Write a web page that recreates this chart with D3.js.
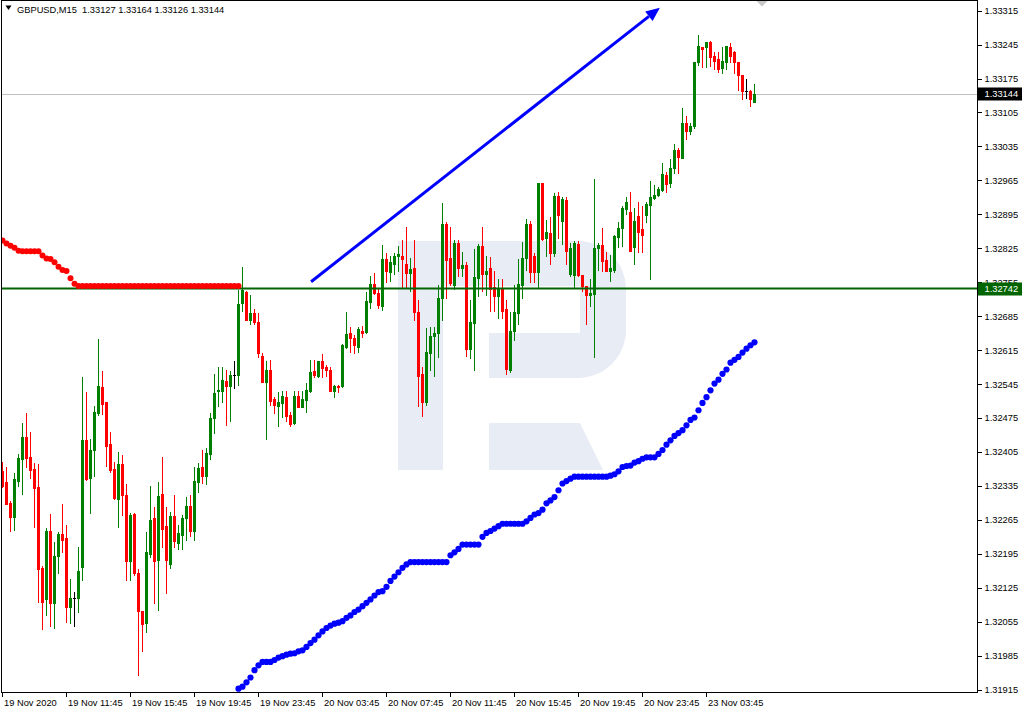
<!DOCTYPE html>
<html><head><meta charset="utf-8">
<script src="https://cdn.jsdelivr.net/npm/d3@7"></script>
<style>html,body{margin:0;padding:0;background:#fff;overflow:hidden}svg{display:block}text{font-family:"Liberation Sans",Arial,sans-serif}</style>
</head><body><svg id="c" width="1025" height="713"></svg>
<script>
const titleText = "GBPUSD,M15  1.33127 1.33164 1.33126 1.33144";
const opens = [1.32365,1.32344,1.32299,1.32270,1.32346,1.32390,1.32435,1.32394,1.32369,1.32332,
1.32165,1.32101,1.32243,1.32093,1.32191,1.32235,1.32227,1.32086,1.32103,1.32103,
1.32167,1.32429,1.32352,1.32408,1.32486,1.32538,1.32507,1.32422,1.32369,1.32309,
1.32381,1.32317,1.32181,1.32278,1.32156,1.32078,1.32053,1.32194,1.32268,1.32183,
1.32319,1.32253,1.32173,1.32272,1.32218,1.32233,1.32268,1.32293,1.32241,1.32344,
1.32373,1.32356,1.32400,1.32476,1.32530,1.32530,1.32552,1.32540,1.32563,1.32563,
1.32713,1.32734,1.32678,1.32691,1.32672,1.32602,1.32550,1.32575,1.32515,1.32499,
1.32505,1.32519,1.32482,1.32464,1.32521,1.32497,1.32513,1.32530,1.32571,1.32561,
1.32592,1.32581,1.32575,1.32530,1.32542,1.32540,1.32622,1.32651,1.32639,1.32622,
1.32655,1.32653,1.32715,1.32752,1.32732,1.32705,1.32802,1.32777,1.32792,1.32808,
1.32810,1.32792,1.32775,1.32785,1.32693,1.32565,1.32507,1.32610,1.32645,1.32651,
1.32723,1.32874,1.32804,1.32750,1.32835,1.32785,1.32790,1.32618,1.32670,1.32763,
1.32829,1.32771,1.32785,1.32746,1.32726,1.32744,1.32699,1.32573,1.32655,1.32691,
1.32750,1.32804,1.32876,1.32808,1.32777,1.32959,1.32847,1.32856,1.32816,1.32932,
1.32882,1.32924,1.32771,1.32769,1.32833,1.32769,1.32748,1.32728,1.32730,1.32825,
1.32831,1.32800,1.32779,1.32781,1.32849,1.32866,1.32905,1.32899,1.32827,1.32891,
1.32864,1.32893,1.32915,1.32928,1.32934,1.32946,1.32977,1.32959,1.32990,1.33027,
1.33012,1.33084,1.33066,1.33078,1.33208,1.33239,1.33239,1.33251,1.33222,1.33216,
1.33196,1.33210,1.33239,1.33229,1.33210,1.33183,1.33150,1.33150,1.33127];
const highs = [1.32385,1.32373,1.32303,1.32361,1.32400,1.32464,1.32486,1.32447,1.32383,1.32381,
1.32169,1.32249,1.32278,1.32220,1.32239,1.32297,1.32255,1.32144,1.32117,1.32210,
1.32559,1.32528,1.32431,1.32499,1.32637,1.32571,1.32509,1.32447,1.32385,1.32404,
1.32398,1.32338,1.32280,1.32280,1.32163,1.32078,1.32239,1.32334,1.32291,1.32344,
1.32394,1.32291,1.32282,1.32317,1.32255,1.32274,1.32313,1.32317,1.32373,1.32383,
1.32410,1.32414,1.32486,1.32565,1.32581,1.32581,1.32575,1.32571,1.32592,1.32738,
1.32787,1.32736,1.32728,1.32699,1.32691,1.32610,1.32592,1.32594,1.32519,1.32528,
1.32530,1.32530,1.32488,1.32530,1.32530,1.32530,1.32548,1.32594,1.32594,1.32592,
1.32606,1.32585,1.32581,1.32544,1.32544,1.32627,1.32693,1.32662,1.32647,1.32662,
1.32664,1.32734,1.32767,1.32775,1.32740,1.32831,1.32816,1.32810,1.32816,1.32829,
1.32841,1.32868,1.32804,1.32841,1.32719,1.32581,1.32660,1.32662,1.32662,1.32750,
1.32919,1.32880,1.32868,1.32843,1.32843,1.32818,1.32796,1.32719,1.32823,1.32833,
1.32868,1.32810,1.32806,1.32779,1.32761,1.32761,1.32719,1.32693,1.32750,1.32802,
1.32837,1.32886,1.32882,1.32816,1.32959,1.32959,1.32884,1.32889,1.32938,1.32942,
1.32930,1.32930,1.32835,1.32839,1.32839,1.32769,1.32748,1.32761,1.32967,1.32835,
1.32866,1.32818,1.32812,1.32853,1.32880,1.32913,1.32930,1.32940,1.32907,1.32921,
1.32913,1.32921,1.32963,1.32955,1.32952,1.33000,1.32983,1.33008,1.33039,1.33031,
1.33115,1.33097,1.33084,1.33210,1.33264,1.33239,1.33251,1.33253,1.33229,1.33229,
1.33239,1.33243,1.33249,1.33231,1.33210,1.33183,1.33175,1.33152,1.33164];
const lows = [1.32332,1.32297,1.32243,1.32245,1.32334,1.32319,1.32375,1.32352,1.32251,1.32095,
1.32039,1.32068,1.32047,1.32043,1.32156,1.32198,1.32055,1.32053,1.32047,1.32074,
1.32142,1.32348,1.32280,1.32356,1.32482,1.32484,1.32377,1.32363,1.32309,1.32251,
1.32274,1.32140,1.32142,1.32152,1.31946,1.31994,1.32033,1.32189,1.32093,1.32080,
1.32210,1.32115,1.32165,1.32208,1.32204,1.32204,1.32224,1.32231,1.32224,1.32323,
1.32342,1.32338,1.32390,1.32445,1.32499,1.32507,1.32460,1.32468,1.32536,1.32544,
1.32695,1.32678,1.32668,1.32668,1.32600,1.32550,1.32431,1.32501,1.32486,1.32458,
1.32478,1.32468,1.32458,1.32462,1.32497,1.32497,1.32488,1.32528,1.32559,1.32559,
1.32559,1.32561,1.32530,1.32519,1.32528,1.32538,1.32620,1.32612,1.32610,1.32612,
1.32643,1.32651,1.32701,1.32730,1.32701,1.32697,1.32756,1.32758,1.32771,1.32779,
1.32746,1.32744,1.32736,1.32678,1.32499,1.32480,1.32501,1.32573,1.32561,1.32600,
1.32678,1.32723,1.32750,1.32740,1.32767,1.32767,1.32602,1.32598,1.32575,1.32726,
1.32736,1.32728,1.32695,1.32695,1.32682,1.32682,1.32565,1.32569,1.32635,1.32668,
1.32723,1.32781,1.32756,1.32756,1.32746,1.32841,1.32808,1.32792,1.32810,1.32847,
1.32833,1.32792,1.32767,1.32746,1.32767,1.32736,1.32668,1.32705,1.32600,1.32781,
1.32779,1.32779,1.32758,1.32777,1.32827,1.32829,1.32895,1.32820,1.32792,1.32818,
1.32818,1.32880,1.32761,1.32926,1.32932,1.32944,1.32942,1.32952,1.32981,1.32981,
1.33012,1.33051,1.33060,1.33072,1.33202,1.33198,1.33198,1.33200,1.33194,1.33189,
1.33187,1.33194,1.33208,1.33187,1.33152,1.33132,1.33134,1.33119,1.33126];
const closes = [1.32334,1.32297,1.32270,1.32350,1.32392,1.32435,1.32392,1.32367,1.32330,1.32163,
1.32095,1.32243,1.32093,1.32191,1.32235,1.32224,1.32086,1.32103,1.32103,1.32159,
1.32429,1.32350,1.32410,1.32488,1.32542,1.32503,1.32418,1.32367,1.32311,1.32381,
1.32317,1.32181,1.32274,1.32156,1.32078,1.32051,1.32198,1.32264,1.32181,1.32315,
1.32247,1.32183,1.32272,1.32222,1.32237,1.32268,1.32293,1.32241,1.32346,1.32371,
1.32356,1.32402,1.32476,1.32526,1.32532,1.32554,1.32540,1.32563,1.32563,1.32711,
1.32738,1.32678,1.32691,1.32672,1.32610,1.32550,1.32573,1.32511,1.32501,1.32507,
1.32521,1.32480,1.32462,1.32521,1.32497,1.32515,1.32532,1.32569,1.32563,1.32592,
1.32579,1.32573,1.32530,1.32540,1.32538,1.32625,1.32649,1.32639,1.32625,1.32658,
1.32651,1.32717,1.32752,1.32732,1.32707,1.32802,1.32779,1.32796,1.32810,1.32814,
1.32802,1.32775,1.32783,1.32693,1.32561,1.32507,1.32612,1.32645,1.32651,1.32723,
1.32874,1.32800,1.32754,1.32835,1.32785,1.32790,1.32618,1.32672,1.32765,1.32829,
1.32771,1.32779,1.32740,1.32726,1.32740,1.32695,1.32577,1.32655,1.32693,1.32752,
1.32804,1.32876,1.32777,1.32777,1.32959,1.32845,1.32858,1.32816,1.32932,1.32893,
1.32926,1.32820,1.32825,1.32835,1.32769,1.32748,1.32728,1.32732,1.32825,1.32831,
1.32798,1.32779,1.32785,1.32851,1.32866,1.32907,1.32921,1.32820,1.32882,1.32858,
1.32853,1.32917,1.32930,1.32934,1.32948,1.32979,1.32957,1.32990,1.33027,1.33014,
1.33084,1.33066,1.33078,1.33208,1.33241,1.33235,1.33251,1.33220,1.33212,1.33194,
1.33212,1.33241,1.33222,1.33208,1.33183,1.33150,1.33150,1.33132,1.33144];
// red dotted indicator (bars 0..59)
const redDots = [1.32841,1.32835,1.32830,1.32826,1.32820,1.32819,1.32819,1.32819,1.32819,1.32819,
1.32810,1.32804,1.32803,1.32796,1.32787,1.32780,1.32778,1.32763,1.32752,1.32747,
1.32747,1.32747,1.32747,1.32747,1.32747,1.32747,1.32747,1.32747,1.32747,1.32747,
1.32747,1.32747,1.32747,1.32747,1.32747,1.32747,1.32747,1.32747,1.32747,1.32747,
1.32747,1.32747,1.32747,1.32747,1.32747,1.32747,1.32747,1.32747,1.32747,1.32747,
1.32747,1.32747,1.32747,1.32747,1.32747,1.32747,1.32747,1.32747,1.32747,1.32747];
// blue dotted indicator (bars 59..188)
const blueStartBar = 59;
const blueDots = [1.31917,1.31921,1.31930,1.31940,1.31955,1.31965,1.31972,1.31972,1.31972,1.31976,
1.31981,1.31984,1.31987,1.31989,1.31990,1.31994,1.31996,1.32003,1.32011,1.32018,
1.32027,1.32035,1.32042,1.32047,1.32051,1.32053,1.32056,1.32063,1.32068,1.32075,
1.32080,1.32087,1.32094,1.32101,1.32109,1.32116,1.32118,1.32127,1.32139,1.32148,
1.32157,1.32166,1.32173,1.32178,1.32178,1.32178,1.32178,1.32178,1.32178,1.32178,
1.32178,1.32178,1.32178,1.32192,1.32198,1.32205,1.32214,1.32214,1.32214,1.32214,
1.32214,1.32230,1.32238,1.32242,1.32247,1.32252,1.32257,1.32257,1.32257,1.32257,
1.32257,1.32257,1.32262,1.32269,1.32276,1.32279,1.32286,1.32299,1.32305,1.32312,
1.32326,1.32340,1.32345,1.32350,1.32354,1.32354,1.32354,1.32354,1.32354,1.32354,
1.32354,1.32354,1.32354,1.32356,1.32359,1.32365,1.32374,1.32376,1.32377,1.32383,
1.32386,1.32391,1.32394,1.32394,1.32394,1.32401,1.32409,1.32420,1.32429,1.32438,
1.32444,1.32450,1.32460,1.32471,1.32476,1.32491,1.32506,1.32518,1.32532,1.32546,
1.32554,1.32566,1.32575,1.32589,1.32595,1.32601,1.32610,1.32618,1.32625,1.32631];
const priceTicks = [1.33315,1.33245,1.33175,1.33105,1.33035,1.32965,1.32895,1.32825,1.32755,1.32685,1.32615,1.32545,1.32475,1.32405,1.32335,1.32265,1.32195,1.32125,1.32055,1.31985,1.31915];
const timeTickBars = [0,16,32,48,64,80,96,112,128,144,160,176];
const timeLabels = ["19 Nov 2020","19 Nov 11:45","19 Nov 15:45","19 Nov 19:45","19 Nov 23:45","20 Nov 03:45","20 Nov 07:45","20 Nov 11:45","20 Nov 15:45","20 Nov 19:45","20 Nov 23:45","23 Nov 03:45"];
const levelPrice = 1.32742;
const bidPrice = 1.33144;
const arrowFrom = [77.2, 1.32756];
const arrowTo = [164.4, 1.33321];

const svg = d3.select('#c');
const PL = 1.5, PR = 977.5, PT = 0.5, PB = 692.5;
const x = d3.scaleLinear().domain([0, 188]).range([2.3, 754.3]);
const y = d3.scaleLinear().domain([1.31915, 1.33315]).range([689.6, 10.6]);
const fmt = d3.format('.5f');
const FS = 9.3;

svg.append('rect').attr('width',1025).attr('height',713).attr('fill','#fff');
svg.append('defs').append('clipPath').attr('id','clip').append('rect')
  .attr('x',PL+0.5).attr('y',PT+0.5).attr('width',PR-PL-1).attr('height',PB-PT-1);

const plot = svg.append('g').attr('clip-path','url(#clip)');

// watermark logo
const logo = plot.append('g').attr('fill','#e8ecf4');
logo.append('path').attr('d','M398,241 H578 A48,48 0 0 1 626,289 V330 A48,48 0 0 1 578,378 H489 V333 H580 V286 H443 V470 H398 Z');
logo.append('path').attr('d','M489,423 H580 L603,470 H489 Z');

// bid line
plot.append('line').attr('x1',PL).attr('x2',PR).attr('y1',Math.round(y(bidPrice))+0.5).attr('y2',Math.round(y(bidPrice))+0.5)
  .attr('stroke','#c0c0c0').attr('stroke-width',1);

// candles
const idx = d3.range(opens.length);
const cg = plot.append('g').attr('shape-rendering','crispEdges');
const col = i => opens[i] === closes[i] ? '#000000' : (closes[i] > opens[i] ? '#008000' : '#ff0000');
cg.selectAll('rect.w').data(idx).join('rect').attr('class','w')
  .attr('x', i => Math.floor(x(i))).attr('width',1)
  .attr('y', i => Math.round(y(highs[i])))
  .attr('height', i => Math.max(1, Math.round(y(lows[i])) - Math.round(y(highs[i])) + 1))
  .attr('fill', col);
cg.selectAll('rect.b').data(idx).join('rect').attr('class','b')
  .attr('x', i => Math.floor(x(i)) - 1).attr('width',3)
  .attr('y', i => Math.round(y(Math.max(opens[i], closes[i]))))
  .attr('height', i => Math.max(1, Math.round(y(Math.min(opens[i], closes[i]))) - Math.round(y(Math.max(opens[i], closes[i]))) + 1))
  .attr('fill', col);

// level line
plot.append('line').attr('x1',PL).attr('x2',PR).attr('y1',y(levelPrice)).attr('y2',y(levelPrice))
  .attr('stroke','#006400').attr('stroke-width',2.2);

// dots
plot.append('g').selectAll('circle').data(redDots).join('circle')
  .attr('cx',(d,i)=>Math.floor(x(i))+0.5).attr('cy',d=>y(d)).attr('r',3).attr('fill','#ff0000');
plot.append('g').selectAll('circle').data(blueDots).join('circle')
  .attr('cx',(d,i)=>Math.floor(x(i+blueStartBar))+0.5).attr('cy',d=>y(d)).attr('r',3.1).attr('fill','#0000ff');

// arrow
const ax1 = x(arrowFrom[0]), ay1 = y(arrowFrom[1]), ax2 = x(arrowTo[0]), ay2 = y(arrowTo[1]);
const ang = Math.atan2(ay2-ay1, ax2-ax1), hl = 14, hw = 6;
const bx = ax2 - hl*Math.cos(ang), by = ay2 - hl*Math.sin(ang);
plot.append('line').attr('x1',ax1).attr('y1',ay1).attr('x2',bx).attr('y2',by)
  .attr('stroke','#0000ff').attr('stroke-width',3);
plot.append('path').attr('fill','#0000ff').attr('d',
  `M${ax2},${ay2} L${bx - hw*Math.sin(ang)},${by + hw*Math.cos(ang)} L${bx + hw*Math.sin(ang)},${by - hw*Math.cos(ang)} Z`);

// shift marker
svg.append('path').attr('d','M756,0.5 L768,0.5 L762,6.5 Z').attr('fill','#c8c8c8');

// frame
svg.append('rect').attr('x',PL).attr('y',PT).attr('width',PR-PL).attr('height',PB-PT)
  .attr('fill','none').attr('stroke','#000').attr('stroke-width',1).attr('shape-rendering','crispEdges');

// right axis
const ya = svg.append('g').attr('transform',`translate(${PR},0)`)
  .call(d3.axisRight(y).tickValues(priceTicks).tickFormat(fmt).tickSize(4).tickPadding(3));
ya.select('.domain').remove();
ya.selectAll('line').attr('stroke','#000').attr('shape-rendering','crispEdges');
ya.selectAll('text').attr('font-size',FS).attr('fill','#000').attr('font-family','"Liberation Sans",Arial,sans-serif');

// bottom axis
const xa = svg.append('g').attr('transform',`translate(0,${PB})`)
  .call(d3.axisBottom(x).tickValues(timeTickBars).tickFormat((d,i)=>timeLabels[i]).tickSize(4).tickPadding(3));
xa.select('.domain').remove();
xa.selectAll('.tick').attr('transform', d => `translate(${Math.floor(x(d))+0.5},0)`);
xa.selectAll('line').attr('stroke','#000').attr('shape-rendering','crispEdges');
xa.selectAll('text').attr('font-size',FS).attr('fill','#000').attr('text-anchor','start').attr('dx',1.5)
  .attr('font-family','"Liberation Sans",Arial,sans-serif');

// price labels
function priceLabel(p, bg) {
  const yy = y(p);
  svg.append('rect').attr('x',PR+0.5).attr('y',Math.round(yy)-6.5).attr('width',44).attr('height',13).attr('fill',bg);
  svg.append('text').attr('x',PR+7).attr('y',yy).attr('dy','0.34em').attr('font-size',FS).attr('fill','#fff').text(fmt(p));
}
priceLabel(levelPrice, '#006400');
priceLabel(bidPrice, '#000000');

// title
svg.append('path').attr('d','M5.5,5.5 L11.5,5.5 L8.5,10 Z').attr('fill','#000');
svg.append('text').attr('x',17).attr('y',12.5).attr('font-size',FS).attr('fill','#000')
  .attr('xml:space','preserve').style('white-space','pre').text(titleText);
</script></body></html>
